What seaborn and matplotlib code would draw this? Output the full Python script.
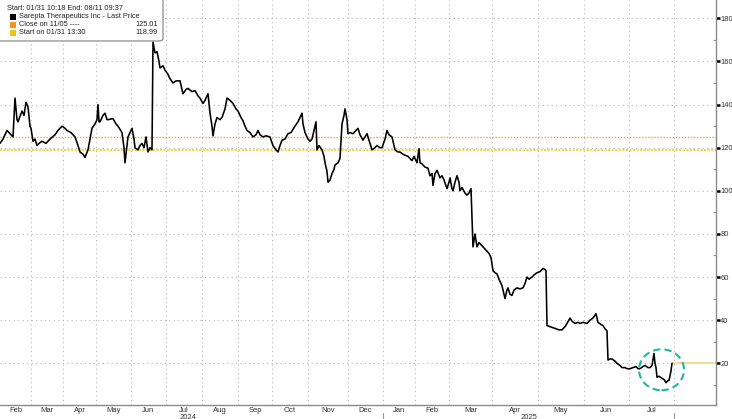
import matplotlib

matplotlib.use("Agg")
import matplotlib.pyplot as plt
import matplotlib.transforms as mtransforms
import pandas as pd
import seaborn as sns
from matplotlib.patches import Ellipse, FancyBboxPatch, Rectangle

# --- data (x = chart position, y = price in USD) ---
bar_pos = [
    0, 3, 7, 11, 13, 15, 17, 18, 22, 24, 26, 28, 30, 31, 33, 35, 37, 39, 42, 46,
    50, 55, 58, 62, 65, 67, 71, 75, 78, 80, 83, 85, 88, 92, 95, 97, 98, 99, 100, 103,
    105, 107, 108, 113, 116, 118, 122, 124, 125, 127, 128, 130, 132, 134, 135, 138, 140, 142, 144, 146,
    148, 150, 152, 153, 155, 157, 159, 160, 163, 165, 168, 170, 173, 176, 180, 183, 186, 188, 192, 195,
    198, 200, 203, 205, 208, 210, 212, 213, 215, 217, 220, 222, 225, 227, 230, 233, 236, 238, 241, 243,
    245, 247, 250, 253, 256, 258, 260, 263, 266, 270, 273, 276, 278, 280, 282, 285, 288, 291, 295, 298,
    300, 302, 303, 305, 308, 310, 312, 314, 316, 317, 319, 322, 324, 325, 327, 328, 330, 332, 334, 335,
    338, 340, 342, 344, 345, 347, 348, 350, 353, 356, 358, 360, 363, 365, 367, 370, 372, 375, 377, 380,
    382, 385, 387, 389, 392, 394, 395, 398, 400, 403, 405, 408, 410, 412, 414, 417, 419, 420, 422, 425,
    428, 430, 432, 433, 435, 437, 440, 442, 444, 447, 449, 450, 452, 453, 455, 457, 459, 460, 462, 465,
    467, 469, 471, 473, 475, 477, 479, 482, 485, 487, 489, 491, 492, 493, 495, 497, 499, 502, 504, 505,
    507, 508, 510, 512, 514, 517, 520, 523, 525, 527, 529, 532, 534, 537, 540, 543, 545, 546, 547, 550,
    553, 556, 559, 562, 565, 567, 570, 572, 575, 578, 580, 583, 587, 590, 593, 596, 598, 601, 603, 605,
    607, 608, 610, 612, 615, 617, 620, 622, 625, 627, 630, 633, 636, 638, 640, 643, 645, 648, 650, 652,
    654, 655, 656, 657, 659, 662, 664, 666, 668, 669, 671, 672,
]
price = [
    122, 124, 128, 126, 125, 143, 133, 132, 137, 135, 141, 139, 130, 129, 123, 124, 121, 122, 123, 122,
    124, 126, 128, 130, 129, 128, 127, 125, 121, 118, 117, 115.5, 119, 129, 131, 133, 140, 132, 132, 135,
    136, 133, 133, 133.5, 131, 130, 127, 120, 113, 121, 125, 127, 129, 124, 120, 119, 121, 122, 120, 125,
    118, 120, 119, 169, 164, 164.5, 160, 157, 158, 156, 154, 152, 150, 151, 151, 145, 147, 147.5, 146, 146.5,
    144, 143, 140.5, 142, 145, 136, 130, 125.5, 131, 134, 133, 134, 138, 143, 142, 140.5, 138, 137, 134, 132.5,
    130, 128, 127, 125, 126, 128, 126, 125, 125.5, 125, 121, 119, 118, 121, 123.5, 124, 126.5, 127, 130, 132,
    134, 136, 131, 127, 124, 123, 124, 128, 132, 119, 121, 119, 116, 113, 109, 104, 105, 108, 110, 112,
    113, 115, 131, 135, 138, 133, 126.5, 127, 126.5, 128, 129, 126, 123.5, 125, 126.5, 122, 119, 120, 121, 120,
    120, 124, 128, 126, 125, 121, 119, 118, 118, 117, 116.5, 116, 115, 114, 116, 113, 119.5, 113, 112.5, 111,
    110.5, 107, 108, 102.5, 108, 109.5, 106, 107, 105, 101, 104, 106, 101, 100, 104, 107, 104, 100, 101.5, 99,
    98, 99, 101, 74, 80, 74, 76, 74.5, 73, 72, 71, 69, 66, 63, 62, 61.5, 59, 56, 52, 50,
    54, 55, 52, 51.5, 54, 55, 54.5, 55, 57, 60, 59, 60, 61, 62, 62.5, 64, 63.5, 63, 37.5, 37,
    36.5, 36, 35.5, 35.5, 37, 38.5, 41, 39.5, 38.5, 39, 38.5, 39, 38.5, 40, 41, 43, 39, 38, 37.5, 36,
    35, 21.5, 22, 22, 21, 20, 19, 18, 18, 17.5, 17.5, 18, 18.5, 17.5, 17.5, 18.5, 19, 18, 18, 19,
    24.5, 20, 18, 13.5, 14, 13, 12.5, 11, 12, 12, 16.5, 20,
]

close_1105 = 125.01
start_0131 = 118.99

# month boundaries on the chart axis, and labels centred between them
month_edges = [0, 31, 63, 96, 131, 166, 202, 238, 272, 308, 348, 383, 415, 449, 492, 538, 584, 629, 674]
month_labels = ["Feb", "Mar", "Apr", "May", "Jun", "Jul", "Aug", "Sep", "Oct", "Nov", "Dec",
                "Jan", "Feb", "Mar", "Apr", "May", "Jun", "Jul"]
year_labels = ["2024", "2025"]
year_label_pos = [188, 529]
year_breaks = [383, 674]

y_ticks = [20, 40, 60, 80, 100, 120, 140, 160, 180]
x_range = (0, 716)
y_range = (0.66, 188.5)

# highlighted recent crash (centre position/price, width, height)
circle_center = (661.5, 17.0)
circle_size = (45, 19.0)

LEGEND_LINES = [
    ("black", "Sarepta Therapeutics Inc - Last Price", ""),
    ("#f7941d", "Close on 11/05 ----", f"{close_1105:.2f}"),
    ("#f0c419", "Start on 01/31 13:30", f"{start_0131:.2f}"),
]

sns.set_theme(style="white")
plt.rcParams["font.family"] = ["Liberation Sans", "DejaVu Sans"]

fig = plt.figure(figsize=(7.32, 4.19), dpi=100)
ax = fig.add_axes([0, 14 / 419, 716 / 732, 405 / 419])

df = pd.DataFrame({"pos": bar_pos, "price": price})

# grid
grid_kw = dict(color="#b5b5b5", linewidth=0.8, linestyle=(0, (1, 3)), zorder=0)
for yv in y_ticks:
    ax.axhline(yv, **grid_kw)
for xv in month_edges[1:]:
    ax.axvline(xv, **grid_kw)

# reference levels
ax.axhline(close_1105, color="#f3a23c", linewidth=1.0, linestyle=(0, (1, 1.2)), zorder=1)
ax.axhline(start_0131, color="#f5d55a", linewidth=1.6, linestyle=(0, (1, 0.6)), zorder=1)

sns.lineplot(data=df, x="pos", y="price", ax=ax, color="black", linewidth=1.15, zorder=3)

# last price line to the right edge
ax.hlines(price[-1], bar_pos[-1], x_range[1], color="#f5d78e", linewidth=1.3, zorder=2)

ax.add_patch(Ellipse(circle_center, circle_size[0], circle_size[1], fill=False,
                     edgecolor="#1fb89f", linewidth=1.5, linestyle=(0, (3.5, 2)), zorder=4))

ax.set_xlim(*x_range)
ax.set_ylim(*y_range)
ax.set_xlabel("")
ax.set_ylabel("")

# right axis ticks
ax.yaxis.tick_right()
ax.set_yticks(y_ticks)
ax.set_yticks([v + 10 for v in y_ticks[:-1]] + [10], minor=True)
ax.tick_params(axis="y", which="major", direction="out", length=2.6, width=1.8, color="black",
               labelsize=5.4, labelcolor="#333333", pad=0.5)
ax.tick_params(axis="y", which="minor", direction="in", length=2, width=0.8, color="#999999")

# month ticks at boundaries, labels centred in each month
ax.set_xticks(month_edges[1:])
ax.set_xticklabels([])
ax.tick_params(axis="x", which="major", direction="out", length=3, width=0.8, color="#777777")
mids = [(a + b) / 2 for a, b in zip(month_edges[:-1], month_edges[1:])]
trans = mtransforms.blended_transform_factory(ax.transData, fig.transFigure)
for m, lab in zip(mids, month_labels):
    ax.text(m, 1 - 410 / 419, lab, transform=trans, ha="center", va="center",
            fontsize=5.5, color="#333333", clip_on=False)
for p, lab in zip(year_label_pos, year_labels):
    ax.text(p, 1 - 413.5 / 419, lab, transform=trans, ha="center", va="top",
            fontsize=5.5, color="#333333", clip_on=False)
for xb in year_breaks:
    ax.plot([xb, xb], [1 - 413 / 419, 0], transform=trans, color="#999999",
            linewidth=0.8, clip_on=False)

for side in ["top", "left"]:
    ax.spines[side].set_visible(False)
for side in ["right", "bottom"]:
    ax.spines[side].set_color("#8a8a8a")
    ax.spines[side].set_linewidth(1.0)

# legend box, top-left
W, H = 732, 419
box = FancyBboxPatch((-4 / W, 1 - 41 / H), 167 / W, 46 / H, transform=fig.transFigure,
                     boxstyle="round,pad=0,rounding_size=0.006", facecolor="white",
                     edgecolor="#8c8c8c", linewidth=0.9, zorder=10)
fig.patches.append(box)
fs = 5.3
fig.text(7 / W, 1 - 9 / H, "Start: 01/31 10:18 End: 08/11 09:37", fontsize=fs,
         color="#222222", va="center", zorder=11)
for i, (col, lab, val) in enumerate(LEGEND_LINES):
    yc = 1 - (17 + 8 * i) / H
    fig.patches.append(Rectangle((10 / W, yc - 3 / H), 6 / W, 6 / H, transform=fig.transFigure,
                                 facecolor=col, edgecolor="none", zorder=11))
    fig.text(19 / W, yc, lab, fontsize=fs, color="#222222", va="center", zorder=11)
    if val:
        fig.text(158 / W, yc, val, fontsize=fs, color="#222222", va="center", ha="right", zorder=11)

fig.savefig("out.png", dpi=100)
